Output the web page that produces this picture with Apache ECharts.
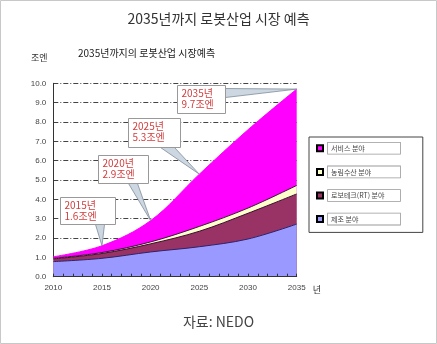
<!DOCTYPE html>
<html>
<head>
<meta charset="utf-8">
<script src="https://cdn.jsdelivr.net/npm/echarts@6/dist/echarts.min.js"></script>
<style>
html,body{margin:0;padding:0;background:#fff;}
#c{width:437px;height:344px;}
</style>
</head>
<body>
<div id="c"></div>
<script>
// ---- data ----
const years = [2010, 2015, 2020, 2025, 2030, 2035];
const manufacturing = [0.78, 0.95, 1.28, 1.55, 1.95, 2.72];   // 제조 분야
const robotech      = [0.14, 0.25, 0.42, 0.80, 1.33, 1.56];   // 로보테크(RT) 분야
const agriculture   = [0.03, 0.05, 0.10, 0.25, 0.27, 0.44];   // 농림수산 분야
const service       = [0.08, 0.35, 1.10, 2.70, 4.05, 4.98];   // 서비스 분야
const seriesNames = ['제조 분야', '로보테크(RT) 분야', '농림수산 분야', '서비스 분야'];
const yTicks = [0, 1, 2, 3, 4, 5, 6, 7, 8, 9, 10];
const annoYears = [2015, 2020, 2025, 2035];
const annoTotals = [1.6, 2.9, 5.3, 9.7];
const annoLabels = ['2015년\n1.6조엔', '2020년\n2.9조엔', '2025년\n5.3조엔', '2035년\n9.7조엔'];

// ---- layout (callout box placement relative to anchor) ----
const annoLayout = [
  {dx: -42, dy: -49, w: 55, h: 27, base: [[35, 27], [44, 27]]},
  {dx: -53, dy: -66, w: 50, h: 28, base: [[30, 28], [39, 28]]},
  {dx: -71, dy: -56, w: 52, h: 29, base: [[32, 29], [46, 29]]},
  {dx: -120, dy: -4, w: 48, h: 28, base: [[48, 3], [48, 12]]}
];

const CJK = '"Noto Sans CJK KR", "Noto Sans", sans-serif';
const NUM = '"Liberation Sans", Arial, sans-serif';

const chart = echarts.init(document.getElementById('c'), null, {renderer: 'canvas'});

const colors = ['#9999FF', '#993366', '#FFFFCC', '#FF00FF'];
const lineColors = ['#2e2266', '#3a1030', '#3a1a3a', '#ff00ff'];
const layers = [manufacturing, robotech, agriculture, service];

// cumulative layers (stacking done here; each area fills down to the axis,
// upper layers drawn underneath lower ones)
const cumulative = [];
layers.forEach((arr, i) => {
  cumulative.push(arr.map((v, k) => (i ? cumulative[i - 1][k] : 0) + v));
});

const series = cumulative.map((arr, i) => ({
  name: seriesNames[i],
  type: 'line',
  smooth: 0.35,
  showSymbol: false,
  symbol: 'none',
  data: years.map((y, k) => [y, +arr[k].toFixed(3)]),
  lineStyle: {color: lineColors[i], width: 1},
  itemStyle: {color: colors[i], borderColor: '#000', borderWidth: 1},
  areaStyle: {color: colors[i], opacity: 1},
  z: 10 - i
}));

chart.setOption({
  animation: false,
  backgroundColor: '#fff',
  title: [
    {text: '2035년까지 로봇산업 시장 예측', left: 'center', top: 7,
     textStyle: {fontFamily: CJK, fontSize: 14, fontWeight: 'normal', color: '#333'}},
    {text: '2035년까지의 로봇산업 시장예측', left: 73, top: 43,
     textStyle: {fontFamily: CJK, fontSize: 10, fontWeight: 'normal', color: '#222'}},
    {text: '자료: NEDO', left: 'center', top: 310,
     textStyle: {fontFamily: CJK, fontSize: 14, fontWeight: 'normal', color: '#444'}}
  ],
  grid: {left: 53.3, right: 140.3, top: 83.3, bottom: 67.3, containLabel: false},
  legend: {
    orient: 'vertical',
    left: 309, top: 137,
    data: ['서비스 분야', '농림수산 분야', '로보테크(RT) 분야', '제조 분야'],
    backgroundColor: '#fff',
    borderColor: '#444', borderWidth: 1,
    padding: [5, 22, 7, 7],
    itemGap: 11,
    itemWidth: 6, itemHeight: 6,
    icon: 'rect',
    textStyle: {
      fontFamily: CJK, fontSize: 7, color: '#444',
      backgroundColor: '#fff', borderColor: '#999', borderWidth: 0.8,
      width: 66, height: 11, padding: [0, 3, 0, 3], lineHeight: 11
    }
  },
  xAxis: {
    type: 'value', min: 2010, max: 2035, interval: 5,
    name: '년', nameLocation: 'end', nameGap: 16,
    nameTextStyle: {fontFamily: CJK, fontSize: 9, color: '#333', verticalAlign: 'top', padding: [8, 0, 0, 0]},
    axisLine: {show: true, onZero: false, lineStyle: {color: '#333', width: 1}},
    axisTick: {show: true, inside: true, length: 3, lineStyle: {color: '#333'}},
    minorTick: {show: true, splitNumber: 5, length: 3, lineStyle: {color: '#333'}},
    axisLabel: {fontFamily: NUM, fontSize: 8, color: '#444', margin: 7, formatter: v => String(v)},
    splitLine: {show: false},
    z: 20
  },
  yAxis: {
    type: 'value', min: yTicks[0], max: yTicks[yTicks.length - 1], interval: 1,
    axisLine: {show: true, lineStyle: {color: '#333', width: 1}},
    axisTick: {show: false},
    axisLabel: {fontFamily: NUM, fontSize: 8, color: '#444', margin: 7, formatter: v => v.toFixed(1)},
    splitLine: {show: true, lineStyle: {color: '#444', width: 1, type: [5, 2, 1, 2]}}
  },
  series: series
});

// y-axis unit label and frame + callouts (positioned from data via the axes)
const graphics = [
  {type: 'rect', shape: {x: 0.5, y: 0.5, width: 436, height: 343},
   style: {fill: 'none', stroke: '#c8c8c8', lineWidth: 1}, z: 100, silent: true},
  {type: 'text', left: 31, top: 53, style: {text: '조엔', font: '9px ' + CJK, fill: '#333'}, z: 100}
];

annoYears.forEach((yr, i) => {
  const p = chart.convertToPixel({gridIndex: 0}, [yr, annoTotals[i]]);
  const L = annoLayout[i];
  const bx = Math.round(p[0] + L.dx) + 0.5, by = Math.round(p[1] + L.dy) + 0.5;
  graphics.push({
    type: 'polygon',
    shape: {points: [[bx + L.base[0][0], by + L.base[0][1]], [p[0], p[1]], [bx + L.base[1][0], by + L.base[1][1]]]},
    style: {fill: '#cdd7e1', stroke: '#7f8c99', lineWidth: 0.8}, z: 50
  });
  graphics.push({
    type: 'rect', shape: {x: bx, y: by, width: L.w, height: L.h},
    style: {fill: '#fff', stroke: '#999', lineWidth: 1}, z: 51
  });
  graphics.push({
    type: 'text', x: bx + 4, y: by + 2.5,
    style: {text: annoLabels[i], font: '10px ' + CJK, fill: '#d23c3c', lineHeight: 11, verticalAlign: 'top'},
    z: 52
  });
});

chart.setOption({graphic: graphics});
</script>
</body>
</html>
